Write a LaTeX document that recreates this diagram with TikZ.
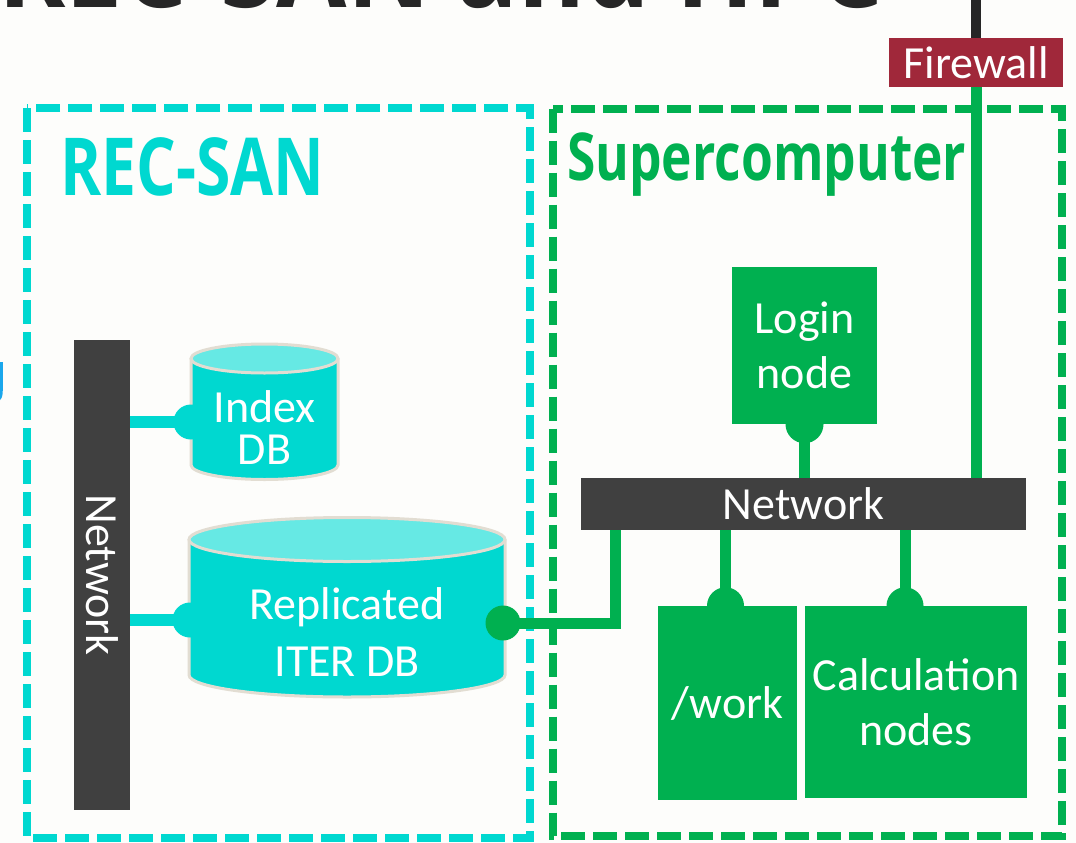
\documentclass[tikz,border=0pt]{standalone}
\usepackage{fontspec}
\setmainfont{Carlito}
\newfontfamily\headfont[FakeStretch=0.78]{Open Sans}
\newfontfamily\titlefont[FakeStretch=0.88]{Open Sans}
\usetikzlibrary{calc}

\definecolor{sancyan}{HTML}{00D8D0}
\definecolor{sancyanlight}{HTML}{66E9E4}
\definecolor{cylrim}{HTML}{E2DDD2}
\definecolor{hpcgreen}{HTML}{00B050}
\definecolor{netgray}{HTML}{404040}
\definecolor{fwred}{HTML}{A0283A}
\definecolor{inkdark}{HTML}{262626}
\definecolor{paper}{HTML}{FDFDFB}
\definecolor{slideblue}{HTML}{1AA7EC}

\tikzset{
  zone/.style={line width=8pt, dash pattern=on 24pt off 8pt},
  bodytext/.style={text=white, align=center, inner sep=0pt,
    font=\fontsize{46}{55}\selectfont},
  greenbox/.style={bodytext, fill=hpcgreen},
  netbar/.style={fill=netgray, inner sep=0pt},
  rim/.style={draw=cylrim, line width=3pt},
  sanlink/.style={draw=sancyan, line width=12pt},
  hpclink/.style={draw=hpcgreen, line width=11pt},
  heading/.style={anchor=base west, inner sep=0pt},
}

\begin{document}
\begin{tikzpicture}[x=1pt, y=-1pt]
  % page
  \fill[paper] (0,0) rectangle (1076,843);
  \useasboundingbox (0,0) rectangle (1076,843);

  % slide title and edge of the neighbouring glyph
  \begin{scope}
    \clip (0,0) rectangle (1076,843);
    \node[anchor=base east, inner sep=0pt, text=inkdark,
      font=\titlefont\bfseries\fontsize{116}{116}\selectfont] (title) at (884,8) {REC-SAN and HPC};
    \fill[slideblue] (-4,362) -- (2.8,362) -- (2.8,390)
      .. controls (2.8,396) and (1.5,399) .. (0,400) -- (-4,400) -- cycle;
  \end{scope}

  % the two zones
  \draw[zone, sancyan] (27,108) rectangle (529.5,838);
  \draw[zone, hpcgreen] (552.5,108.5) rectangle (1062,836);

  \node[heading, text=sancyan,
    font=\headfont\bfseries\fontsize{80}{80}\selectfont] (sanlabel) at (60,195) {REC-SAN};
  \node[heading, text=hpcgreen,
    font=\headfont\bfseries\fontsize{66}{66}\selectfont] (hpclabel) at (567,180) {Supercomputer};

  % ---------- REC-SAN ----------
  % Index DB cylinder
  \fill[sancyan] (191,358.5) -- (191,465)
    arc[start angle=180, end angle=0, x radius=73.5, y radius=14.5] -- (338,358.5) -- cycle;
  \draw[rim] (191,358.5) -- (191,465)
    arc[start angle=180, end angle=0, x radius=73.5, y radius=14.5] -- (338,358.5);
  \filldraw[rim, fill=sancyanlight] (264.5,358.5) ellipse[x radius=73.5, y radius=14.5];
  \node[bodytext, font=\fontsize{46}{42}\selectfont] (idx) at (264.5,428) {Index\\DB};

  % Replicated ITER DB cylinder
  \fill[sancyan] (189,539.5) -- (189,675)
    arc[start angle=180, end angle=0, x radius=158, y radius=22] -- (505,539.5) -- cycle;
  \draw[rim] (189,539.5) -- (189,675)
    arc[start angle=180, end angle=0, x radius=158, y radius=22] -- (505,539.5);
  \filldraw[rim, fill=sancyanlight] (347,539.5) ellipse[x radius=158, y radius=22];
  \node[bodytext, font=\fontsize{46}{57}\selectfont] (rep) at (347,632.5) {Replicated\\ITER DB};

  % storage network
  \node[netbar, minimum width=56pt, minimum height=470pt] (lnet) at (102,575) {};
  \node[bodytext, rotate=-90] (lnetlabel) at (lnet.center) {Network};

  \coordinate (idxtap) at (191,422);
  \coordinate (reptapl) at (190,620);
  \path[sanlink] (lnet.east |- idxtap) -- (idxtap);
  \fill[sancyan] (idxtap) circle (17.5);
  \path[sanlink] (lnet.east |- reptapl) -- (reptapl);
  \fill[sancyan] (reptapl) circle (17.5);

  % ---------- Supercomputer ----------
  \node[netbar, text=white, font=\fontsize{46}{55}\selectfont,
    minimum width=445pt, minimum height=52pt] (hnet) at (803.5,504) {Network};

  \node[greenbox, minimum width=145pt, minimum height=157pt] (login) at (804.5,345.5) {Login\\node};
  \node[greenbox, minimum width=139pt, minimum height=194pt] (work) at (727.5,703) {/work};
  \node[greenbox, minimum width=222pt, minimum height=192pt] (calc) at (916,702) {Calculation\\nodes};

  \node[fill=fwred, text=white, inner sep=0pt, font=\fontsize{46}{55}\selectfont,
    minimum width=174pt, minimum height=49pt] (fw) at (976,62.5) {Firewall};

  % login node to network
  \path[hpclink] (login.south) -- (login.south |- hnet.north);
  \fill[hpcgreen] (login.south) circle (19);

  % /work and calculation nodes to network
  \coordinate (worktap) at ([xshift=-2pt]work.north);
  \coordinate (calctap) at ([xshift=-11pt]calc.north);
  \path[hpclink] (worktap) -- (worktap |- hnet.south);
  \fill[hpcgreen] (worktap) circle (18.5);
  \path[hpclink] (calctap) -- (calctap |- hnet.south);
  \fill[hpcgreen] (calctap) circle (18.5);

  % replicated database to network
  \coordinate (reptapr) at (503,623);
  \coordinate (hnetleft) at ([xshift=34.5pt]hnet.south west);
  \path[hpclink] (reptapr) -| (hnetleft);
  \fill[hpcgreen] (reptapr) circle (17.5);

  % firewall uplink
  \coordinate (uplink) at (fw.north |- 0,0);
  \draw[line width=10pt, inkdark] (uplink) -- (fw.north);
  \path[hpclink] (fw.south) -- (fw.south |- hnet.north);
\end{tikzpicture}
\end{document}
